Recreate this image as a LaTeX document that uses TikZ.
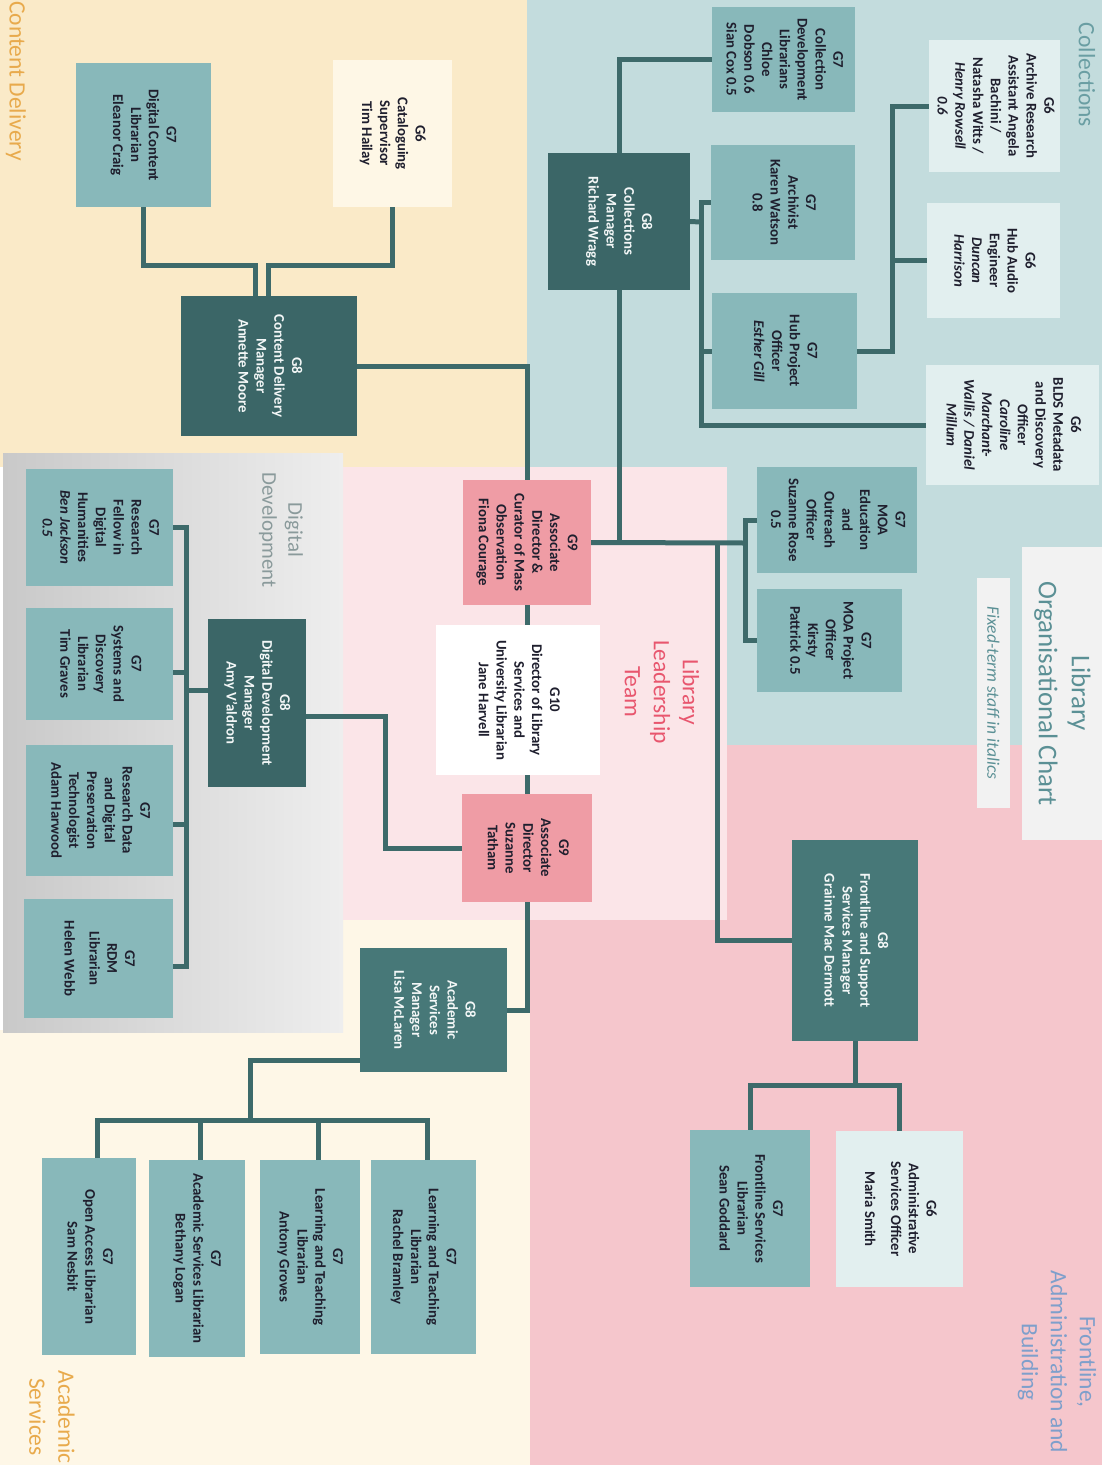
\documentclass[tikz,border=0pt]{standalone}
\usepackage{fontspec}
\usepackage{graphicx}
\setmainfont{Carlito}
\usetikzlibrary{calc}
\pgfdeclarelayer{back}
\pgfdeclarelayer{mid}
\pgfsetlayers{back,mid,main}
\definecolor{tanbg}{HTML}{FAEAC8}
\definecolor{tealbg}{HTML}{C3DCDD}
\definecolor{lpinkbg}{HTML}{FBE5E8}
\definecolor{pinkbg}{HTML}{F5C6CC}
\definecolor{creambg}{HTML}{FEF7E7}
\definecolor{grayA}{HTML}{C9C9C9}
\definecolor{grayB}{HTML}{EEEEEE}
\definecolor{nteal}{HTML}{88B8BA}
\definecolor{nlight}{HTML}{E2EFEF}
\definecolor{ndark}{HTML}{3B6667}
\definecolor{nmid}{HTML}{477878}
\definecolor{npink}{HTML}{EF9CA5}
\definecolor{ncream}{HTML}{FEF7E6}
\definecolor{lineC}{HTML}{3D6A6A}
\definecolor{txtdark}{HTML}{1F1F2E}
\definecolor{txtlight}{HTML}{F3F7F7}
\definecolor{goldC}{HTML}{E8AA4C}
\definecolor{collC}{HTML}{6A9EA3}
\definecolor{ddC}{HTML}{8A9A9B}
\definecolor{lltC}{HTML}{E8566E}
\definecolor{titleC}{HTML}{5B9095}
\definecolor{frontC}{HTML}{7E9FCB}
\definecolor{titlebg}{HTML}{F2F2F2}
\newcommand{\rtxt}[1]{\rotatebox{-90}{\begin{tabular}{@{}c@{}}#1\end{tabular}}}
\tikzset{
  box/.style={rectangle, inner sep=0pt, outer sep=0pt, text=txtdark,
    font=\fontsize{14.8}{17.8}\selectfont\bfseries},
  tealbox/.style={box, fill=nteal},
  lightbox/.style={box, fill=nlight},
  creambox/.style={box, fill=ncream},
  darkbox/.style={box, fill=ndark, text=txtlight},
  midbox/.style={box, fill=nmid, text=txtlight},
  pinkbox/.style={box, fill=npink},
  whitebox/.style={box, fill=white},
  conn/.style={draw=lineC, line width=5pt, line join=miter, line cap=rect},
  seclabel/.style={rotate=-90, align=center, inner sep=0pt,
    font=\fontsize{23.5}{29}\selectfont}
}
\begin{document}
\begin{tikzpicture}[x=1pt,y=-1pt]
\useasboundingbox (0,0) rectangle (1102,1465);
\begin{pgfonlayer}{back}
\fill[white] (0,0) rectangle (1102,1465);
\fill[tanbg] (0,0) rectangle (527,467);
\fill[tealbg] (527,0) rectangle (1102,467);
\fill[tealbg] (727,467) rectangle (1102,745);
\fill[lpinkbg] (343,467) rectangle (727,920);
\fill[pinkbg] (727,745) rectangle (1102,1465);
\fill[pinkbg] (530,920) rectangle (727,1465);
\fill[creambg] (0,1030) rectangle (530,1465);
\fill[creambg] (343,920) rectangle (530,1030);
\shade[left color=grayA, right color=grayB] (3,453) rectangle (343,1032);
\end{pgfonlayer}

% section labels
\node[seclabel, text=goldC] (lblcd) at (16,81) {Content Delivery};
\node[seclabel, text=collC] (lblcol) at (1087,75) {Collections};
\node[seclabel, text=ddC, font=\fontsize{21}{26}\selectfont] (lbldd) at (281,530) {Digital\\Development};
\node[seclabel, text=lltC] (lbllt) at (662,692) {Library\\Leadership\\Team};
\node[seclabel, text=frontC] (lblfr) at (1057,1362) {Frontline,\\Administration and\\Building};
\node[seclabel, text=goldC] (lblas) at (52,1417) {Academic\\Services};
\node[box, fill=titlebg, text=titleC, minimum width=80pt, minimum height=293pt,
  font=\fontsize{27}{33}\selectfont] (title) at (1062,693.5)
  {\rtxt{Library\\Organisational Chart}};
\node[box, fill=titlebg, text=titleC, minimum width=33pt, minimum height=230pt,
  font=\fontsize{17.5}{21}\selectfont\itshape] (fixed) at (993.5,693)
  {\rotatebox{-90}{Fixed-term staff in italics}};

% Content Delivery
\node[tealbox, minimum width=135pt, minimum height=144pt] (dcl) at (143.5,135)
  {\rtxt{G7\\Digital Content\\Librarian\\Eleanor Craig}};
\node[creambox, minimum width=119pt, minimum height=147pt] (cat) at (392.5,133.5)
  {\rtxt{G6\\Cataloguing\\Supervisor\\Tim Hailay}};
\node[darkbox, minimum width=176pt, minimum height=140pt] (cdm) at (269,366)
  {\rtxt{G8\\Content Delivery\\Manager\\Annette Moore}};

% Collections
\node[tealbox, minimum width=143pt, minimum height=105pt] (cdl) at (783.5,59.5)
  {\rtxt{G7\\Collection\\Development\\Librarians\\Chloe\\Dobson 0.6\\Sian Cox 0.5}};
\node[darkbox, minimum width=142pt, minimum height=137pt] (colm) at (619,221.5)
  {\rtxt{G8\\Collections\\Manager\\Richard Wragg}};
\node[tealbox, minimum width=144pt, minimum height=115pt] (arch) at (783,202.5)
  {\rtxt{G7\\Archivist\\Karen Watson\\0.8}};
\node[tealbox, minimum width=145pt, minimum height=116pt] (hpo) at (784.5,351)
  {\rtxt{G7\\Hub Project\\Officer\\\textit{Esther Gill}}};
\node[lightbox, minimum width=131pt, minimum height=132pt] (ara) at (994.5,106)
  {\rtxt{G6\\Archive Research\\Assistant Angela\\Bachini /\\Natasha Witts /\\\textit{Henry Rowsell}\\\textit{0.6}}};
\node[lightbox, minimum width=133pt, minimum height=115pt] (hae) at (993.5,260.5)
  {\rtxt{G6\\Hub Audio\\Engineer\\\textit{Duncan}\\\textit{Harrison}}};
\node[lightbox, minimum width=173pt, minimum height=120pt] (blds) at (1012.5,425)
  {\rtxt{G6\\BLDS Metadata\\and Discovery\\Officer\\\textit{Caroline}\\\textit{Marchant-}\\\textit{Wallis / Daniel}\\\textit{Millum}}};
\node[tealbox, minimum width=160pt, minimum height=106pt] (moae) at (837,520)
  {\rtxt{G7\\MOA\\Education\\and\\Outreach\\Officer\\Suzanne Rose\\0.5}};
\node[tealbox, minimum width=145pt, minimum height=103pt] (moap) at (829.5,640.5)
  {\rtxt{G7\\MOA Project\\Officer\\Kirsty\\Pattrick 0.5}};

% Leadership
\node[pinkbox, minimum width=128pt, minimum height=125pt] (fiona) at (527,542.5)
  {\rtxt{G9\\Associate\\Director \&\\Curator of Mass\\Observation\\Fiona Courage}};
\node[whitebox, minimum width=164pt, minimum height=150pt] (jane) at (518,700)
  {\rtxt{G10\\Director of Library\\Services and\\University Librarian\\Jane Harvell}};
\node[pinkbox, minimum width=130pt, minimum height=108pt] (suz) at (527,848)
  {\rtxt{G9\\Associate\\Director\\Suzanne\\Tatham}};

% Digital Development
\node[darkbox, minimum width=98pt, minimum height=168pt] (ddm) at (257,703)
  {\rtxt{G8\\Digital Development\\Manager\\Amy V'aldron}};
\node[tealbox, minimum width=147pt, minimum height=117pt] (rf) at (99.5,527.5)
  {\rtxt{G7\\Research\\Fellow in\\Digital\\Humanities\\\textit{Ben Jackson}\\\textit{0.5}}};
\node[tealbox, minimum width=147pt, minimum height=112pt] (sd) at (99.5,664)
  {\rtxt{G7\\Systems and\\Discovery\\Librarian\\Tim Graves}};
\node[tealbox, minimum width=147pt, minimum height=131pt] (rd) at (99.5,810.5)
  {\rtxt{G7\\Research Data\\and Digital\\Preservation\\Technologist\\Adam Harwood}};
\node[tealbox, minimum width=149pt, minimum height=119pt] (rdm) at (98.5,958.5)
  {\rtxt{G7\\RDM\\Librarian\\[7pt]Helen Webb}};

% Academic Services
\node[midbox, minimum width=147pt, minimum height=124pt] (asm) at (433.5,1010)
  {\rtxt{G8\\Academic\\Services\\Manager\\Lisa McLaren}};
\node[tealbox, minimum width=94pt, minimum height=197pt] (oa) at (89,1256.5)
  {\rtxt{G7\\Open Access Librarian\\Sam Nesbit}};
\node[tealbox, minimum width=96pt, minimum height=197pt] (asl) at (197,1258.5)
  {\rtxt{G7\\Academic Services Librarian\\Bethany Logan}};
\node[tealbox, minimum width=100pt, minimum height=194pt] (lta) at (310,1257)
  {\rtxt{G7\\Learning and Teaching\\Librarian\\Antony Groves}};
\node[tealbox, minimum width=105pt, minimum height=194pt] (ltr) at (423.5,1257)
  {\rtxt{G7\\Learning and Teaching\\Librarian\\Rachel Bramley}};

% Frontline
\node[midbox, minimum width=126pt, minimum height=201pt] (fsm) at (855,940.5)
  {\rtxt{G8\\Frontline and Support\\Services Manager\\Grainne Mac Dermott}};
\node[tealbox, minimum width=120pt, minimum height=157pt] (fsl) at (750,1208.5)
  {\rtxt{G7\\Frontline Services\\Librarian\\Sean Goddard}};
\node[lightbox, minimum width=127pt, minimum height=156pt] (aso) at (899.5,1209)
  {\rtxt{G6\\Administrative\\Services Officer\\[8pt]Maria Smith}};

% junctions
\coordinate (mj) at (745,543);
\coordinate (fj) at (717,543);
\coordinate (cj) at (701,222);
\coordinate (hj) at (892,351);
\coordinate (fcj) at (855,1085);
\coordinate (dj) at (186,690);
\coordinate (dsj) at (385,716);
\coordinate (aj) at (250,1120);

\begin{pgfonlayer}{mid}
\draw[conn] (dcl.south) |- ($(cdm.north)+(-14,-31)$) -- ($(cdm.north)+(-14,0)$);
\draw[conn] (cat.south) |- ($(cdm.north)+(-1,-31)$) -- ($(cdm.north)+(-1,0)$);
\draw[conn] (cdm.east) -| (fiona.north);
\draw[conn] (fiona.south) -- (fiona.south |- jane.north);
\draw[conn] (jane.south -| suz.north) -- (suz.north);
\draw[conn] (suz.south) |- (asm.east);
\draw[conn] (colm.north) |- (cdl.west);
\draw[conn] (colm.south) -- (colm.south |- fiona.east);
\draw[conn] (fiona.east) -- (mj);
\draw[conn] (moae.west) -| (mj);
\draw[conn] (moap.west) -| (mj);
\draw[conn] (fsm.west) -| (fj);
\draw[conn] (colm.east) -- (cj);
\draw[conn] (arch.west) -| (cj);
\draw[conn] (hpo.west) -| (cj);
\draw[conn] (blds.west) -| (cj);
\draw[conn] (hpo.east) -- (hj);
\draw[conn] (ara.west) -| (hj);
\draw[conn] (hae.west) -| (hj);
\draw[conn] (fsm.south) -- (fcj);
\draw[conn] (fsl.north) |- (fcj);
\draw[conn] (aso.north) |- (fcj);
\draw[conn] (ddm.west |- dj) -- (dj);
\draw[conn] (rf.east) -| (dj);
\draw[conn] ($(sd.east)+(0,8)$) -| (dj);
\draw[conn] ($(rd.east)+(0,14)$) -| (dj);
\draw[conn] ($(rdm.east)+(0,8)$) -| (dj);
\draw[conn] (ddm.east |- dsj) -- (dsj) |- (suz.west);
\draw[conn] ($(asm.west)+(0,50)$) -| (aj);
\draw[conn] ($(oa.north)+(8,0)$) |- (aj);
\draw[conn] ($(asl.north)+(3,0)$) |- (aj);
\draw[conn] ($(lta.north)+(8,0)$) |- (aj);
\draw[conn] ($(ltr.north)+(4,0)$) |- (aj);
\end{pgfonlayer}
\end{tikzpicture}
\end{document}
